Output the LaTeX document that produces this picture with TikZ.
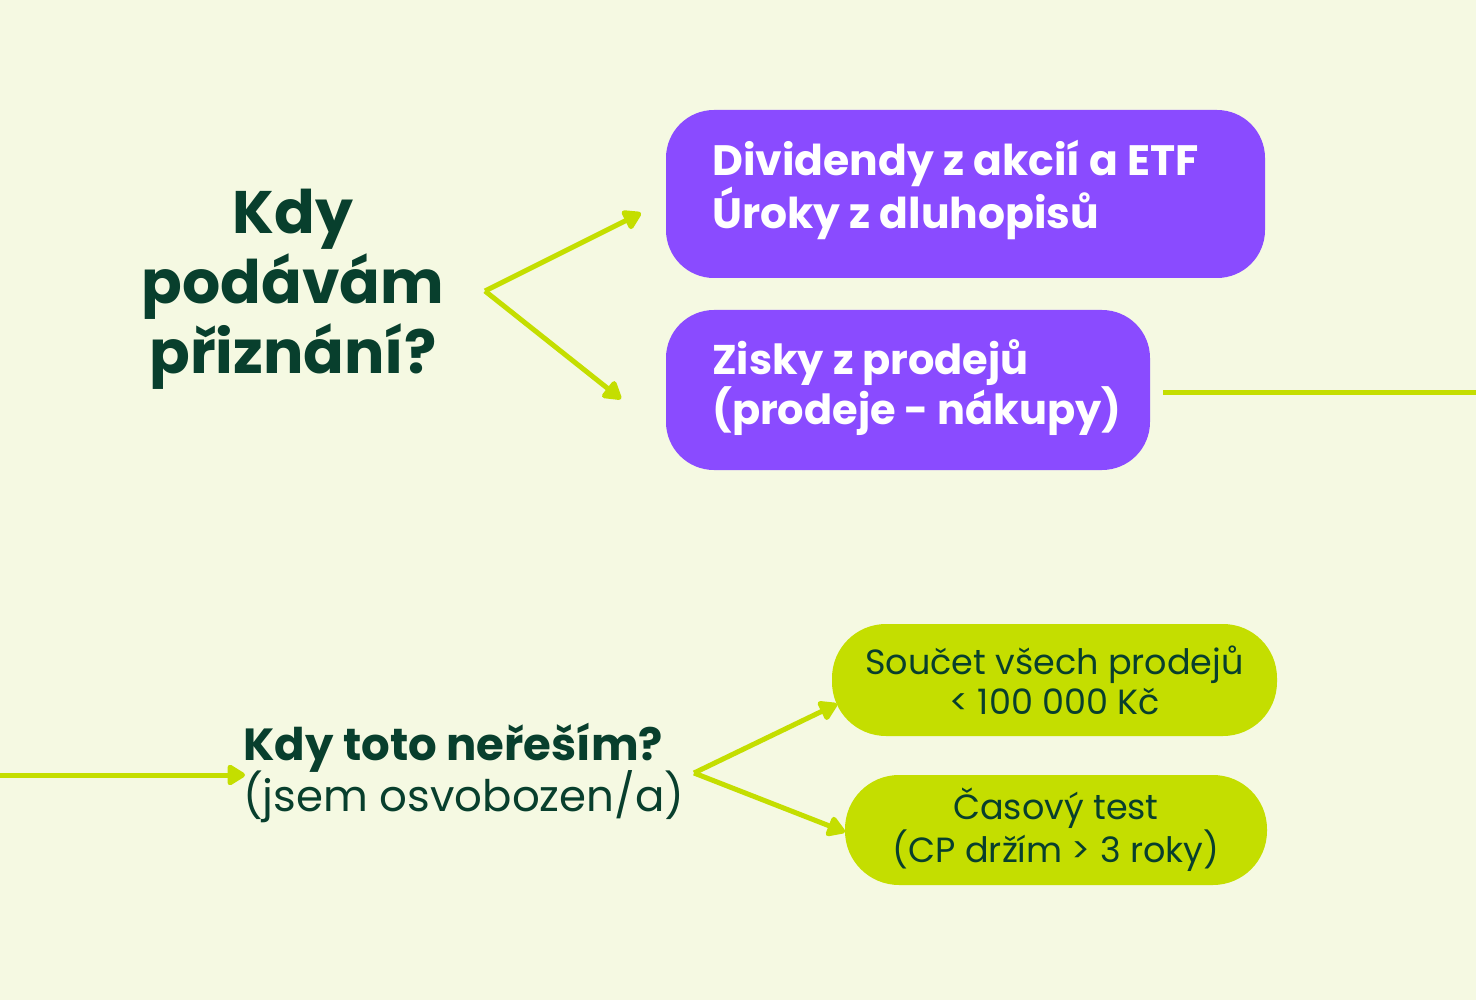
\documentclass[tikz,border=0pt]{standalone}
\usepackage{fontspec}
\setmainfont{Poppins}
\usetikzlibrary{arrows.meta}
\definecolor{bg}{HTML}{F5F9E2}
\definecolor{purp}{HTML}{8A4BFF}
\definecolor{lime}{HTML}{C4DE00}
\definecolor{dgreen}{HTML}{083F2D}
\tikzset{
  conn/.style={draw=lime, line width=5pt, line join=round,
    -{Triangle[length=20pt,width=23pt,round]}},
  plainconn/.style={draw=lime, line width=5pt},
  pbox/.style={fill=purp, rounded corners=48pt, inner sep=0pt},
  lbox/.style={fill=lime, rounded corners=54pt, inner sep=0pt},
  ptext/.style={text=white, font=\bfseries\fontsize{42.5}{52}\selectfont, align=left, anchor=west, inner sep=0pt},
  ltext/.style={text=dgreen, font=\fontsize{35}{40}\selectfont, align=center, inner sep=0pt},
}
\begin{document}
\begin{tikzpicture}[x=1pt,y=-1pt]
\fill[bg] (0,0) rectangle (1476,1000);
\useasboundingbox (0,0) rectangle (1476,1000);

% title
\node[text=dgreen, font=\bfseries\fontsize{60}{70}\selectfont, align=center, inner sep=0pt] (title) at (293,289) {Kdy\\podávám\\přiznání?};

% purple boxes
\node[pbox, minimum width=599pt, minimum height=168pt] (b1) at (965.5,194) {};
\node[ptext] (t1) at (712,190) {Dividendy z akcií a ETF\\Úroky z dluhopisů};
\node[pbox, minimum width=484pt, minimum height=160pt] (b2) at (908,390) {};
\node[ptext, font=\bfseries\fontsize{41.5}{50}\selectfont] (t2) at (712,388) {Zisky z prodejů\\(prodeje - nákupy)};

% bottom-left question
\node[text=dgreen, align=left, anchor=west, inner sep=0pt] (q) at (243,773)
  {{\bfseries\fontsize{45}{50}\selectfont Kdy toto neřeším?}\\[-2pt]{\fontsize{43.5}{50}\selectfont (jsem osvobozen/a)}};

% lime boxes
\node[lbox, minimum width=445pt, minimum height=112pt, ltext] (l1) at (1054.5,680) {Součet všech prodejů\\< 100 000 Kč};
\node[lbox, minimum width=422pt, minimum height=110pt, ltext] (l2) at (1056,830) {Časový test\\(CP držím > 3 roky)};

% connectors
\coordinate (f1) at (485,291);
\coordinate (a1) at (641,213);
\coordinate (a2) at (621,399);
\draw[conn] (f1) -- (a1);
\draw[conn] (f1) -- (a2);

\coordinate (r1) at (1163,393);
\coordinate (redge) at (1476,393);
\draw[plainconn] (r1) -- (redge);

\coordinate (ledge) at (0,775);
\coordinate (qin) at (245,775);
\draw[conn] (ledge) -- (qin);

\coordinate (f2) at (694,773);
\coordinate (a3) at (837,704);
\coordinate (a4) at (845,832);
\draw[conn] (f2) -- (a3);
\draw[conn] (f2) -- (a4);
\end{tikzpicture}
\end{document}
